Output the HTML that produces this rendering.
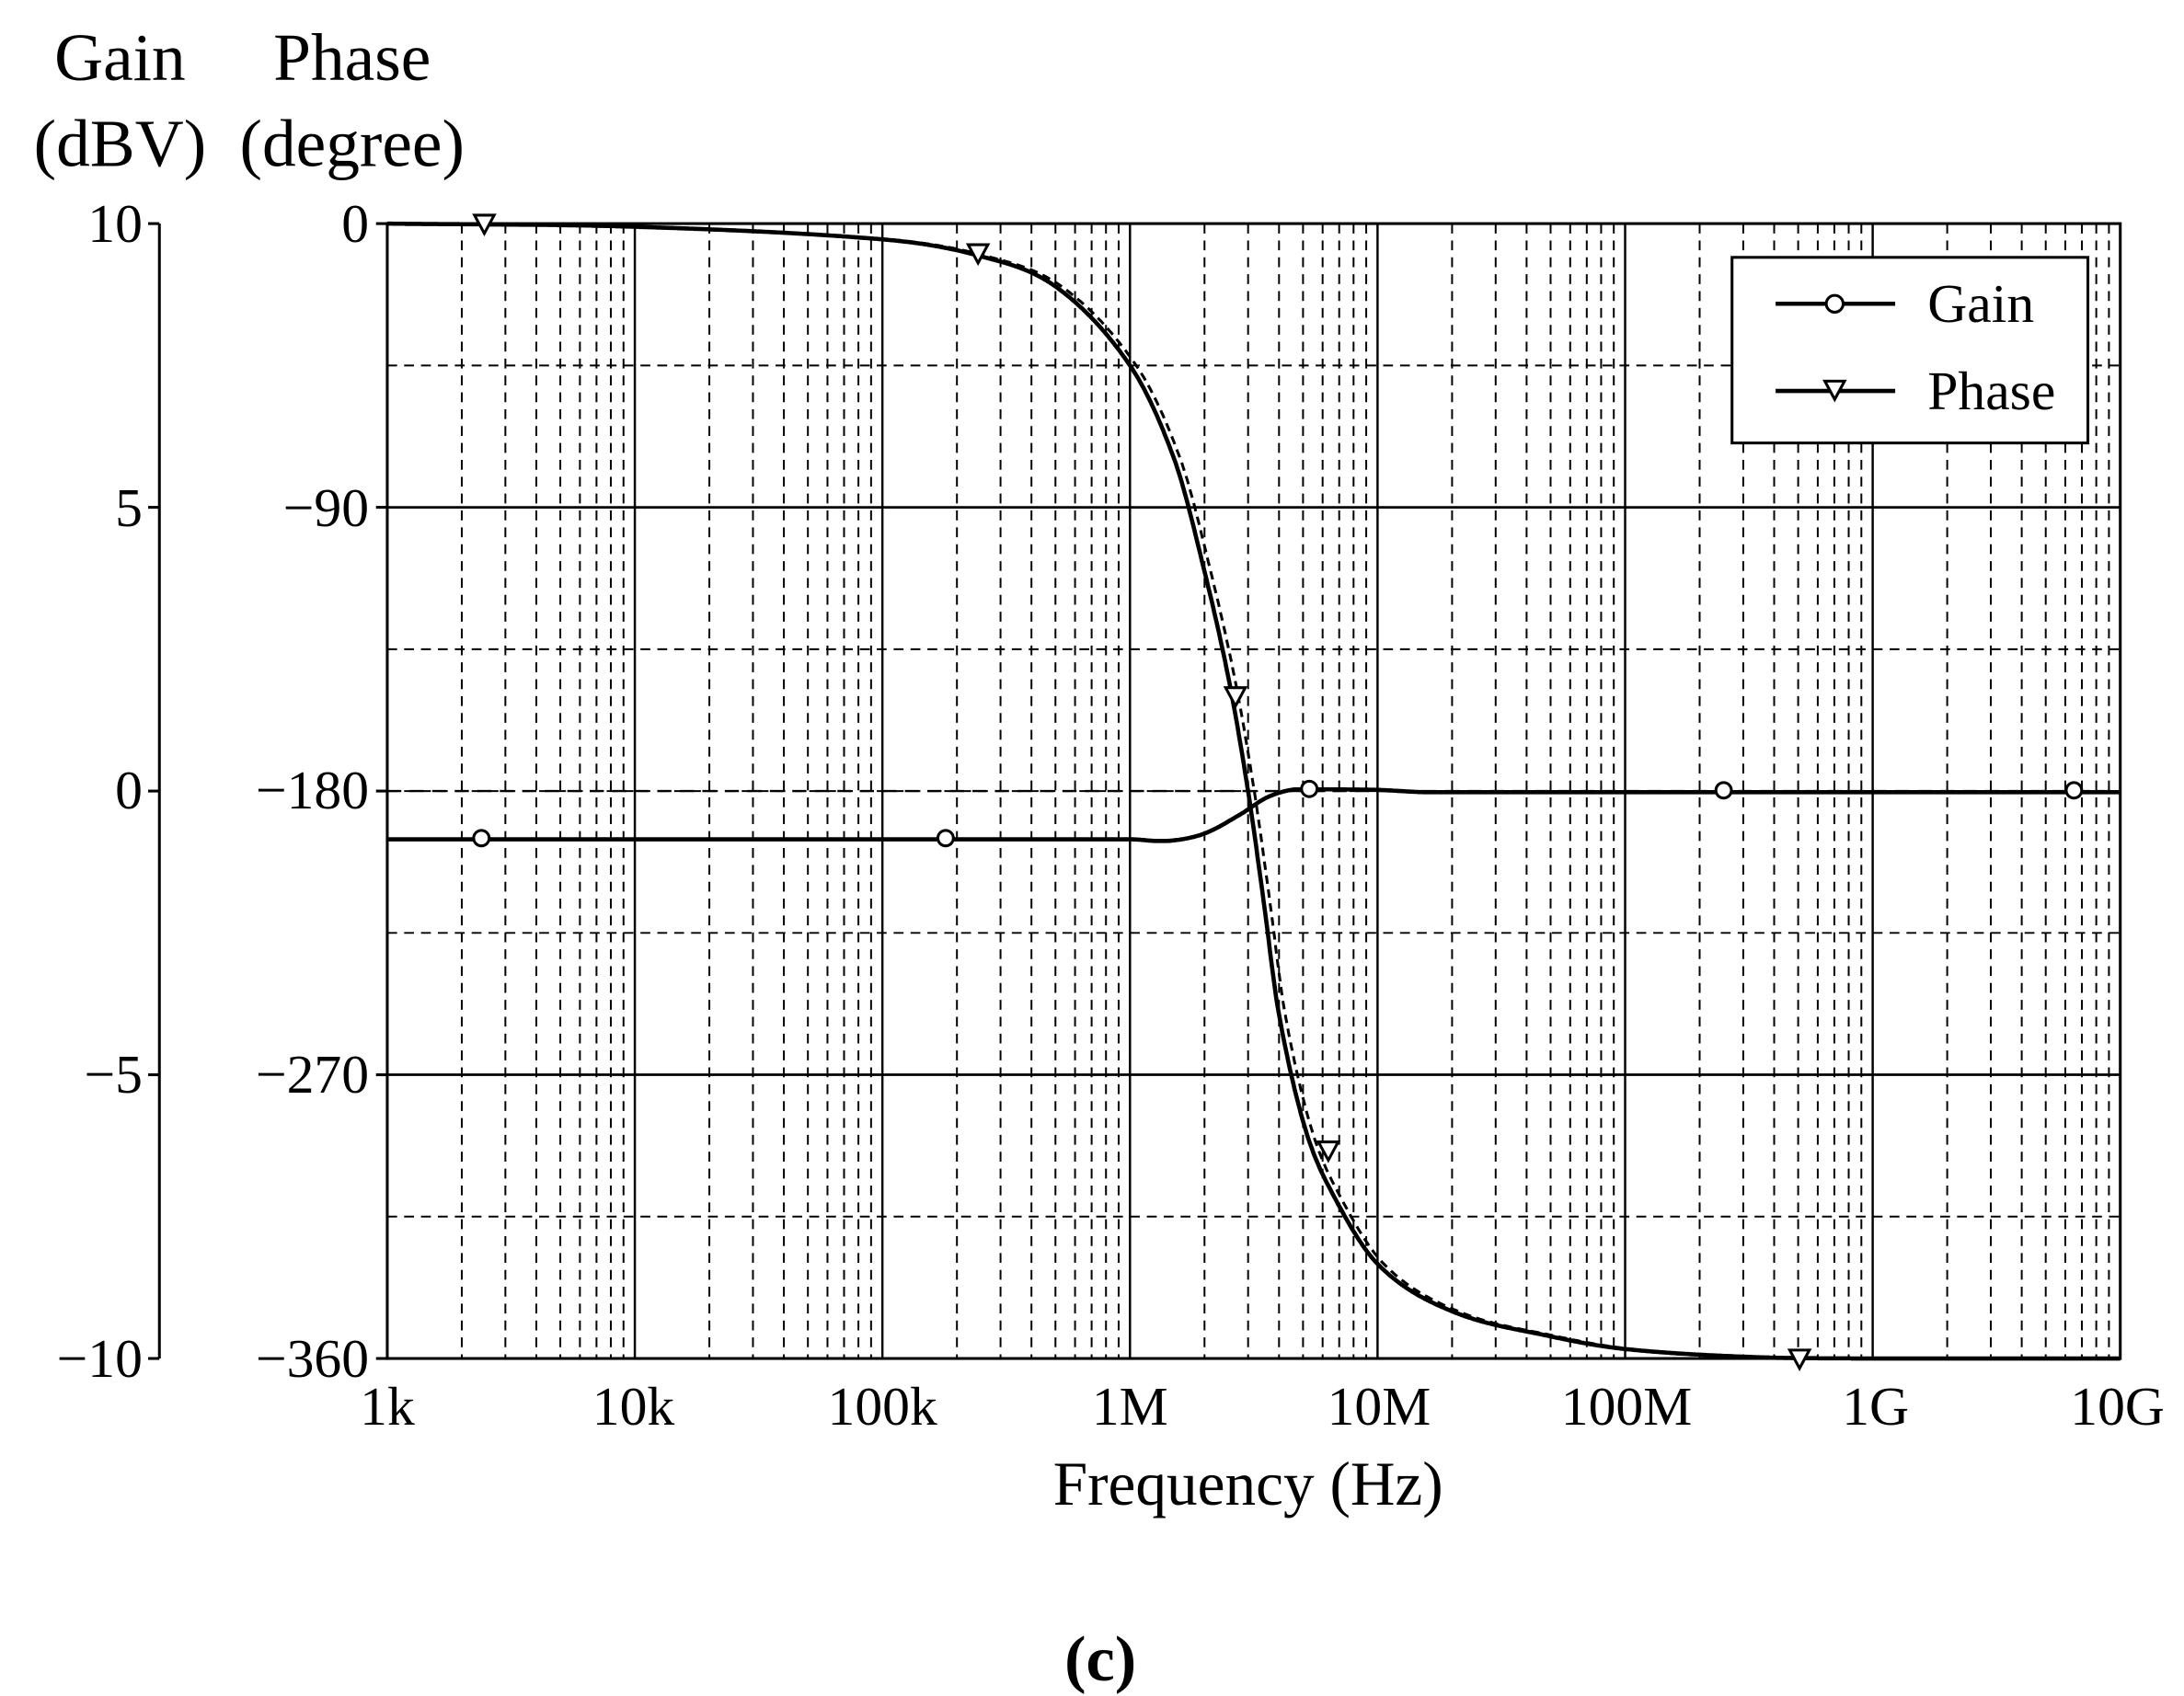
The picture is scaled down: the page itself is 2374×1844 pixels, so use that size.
<!DOCTYPE html>
<html><head><meta charset="utf-8"><style>
html,body{margin:0;padding:0;background:#fff;}
svg{display:block;}
text{font-family:"Liberation Serif",serif;fill:#000;}
</style></head><body>
<svg id="s" width="2374" height="1844" viewBox="0 0 1552 1206" xmlns="http://www.w3.org/2000/svg">
<g id="grid"></g>
<g font-size="48">
<text x="85" y="57" text-anchor="middle">Gain</text>
<text x="85" y="118" text-anchor="middle">(dBV)</text>
<text x="250" y="57" text-anchor="middle">Phase</text>
<text x="250" y="118" text-anchor="middle">(degree)</text>
</g>
<g font-size="39" text-anchor="end">
<text x="101" y="172">10</text>
<text x="101" y="374">5</text>
<text x="101" y="575">0</text>
<text x="101" y="777">−5</text>
<text x="101" y="979">−10</text>
<text x="262" y="172">0</text>
<text x="262" y="374">−90</text>
<text x="262" y="575">−180</text>
<text x="262" y="777">−270</text>
<text x="262" y="979">−360</text>
</g>
<g font-size="39" text-anchor="middle">
<text x="275" y="1013">1k</text>
<text x="450" y="1013">10k</text>
<text x="627" y="1013">100k</text>
<text x="803" y="1013">1M</text>
<text x="980" y="1013">10M</text>
<text x="1156" y="1013">100M</text>
<text x="1333" y="1013">1G</text>
<text x="1505" y="1013">10G</text>
</g>
<text x="887" y="1070" font-size="44" text-anchor="middle">Frequency (Hz)</text>
<text x="782" y="1195" font-size="46" font-weight="bold" text-anchor="middle">(c)</text>
<g id="curves" fill="none" stroke="#000"></g>
<g id="legend">
<rect x="1231" y="183" width="253" height="132" fill="#fff" stroke="#000" stroke-width="2"/>
<line x1="1262" y1="216" x2="1347" y2="216" stroke="#000" stroke-width="3"/>
<circle cx="1304" cy="216" r="6" fill="#fff" stroke="#000" stroke-width="2"/>
<line x1="1262" y1="278" x2="1347" y2="278" stroke="#000" stroke-width="3"/>
<path d="M1297 271 L1311 271 L1304 284 Z" fill="#fff" stroke="#000" stroke-width="2"/>
<text x="1370" y="229" font-size="39">Gain</text>
<text x="1370" y="291" font-size="39">Phase</text>
</g>
</svg>
<script>
var NS="http://www.w3.org/2000/svg";
var X0=275,X1=1507,Y0=159,Y1=966,D=(X1-X0)/7;
function el(p,n,a){var e=document.createElementNS(NS,n);for(var k in a)e.setAttribute(k,a[k]);p.appendChild(e);return e;}
var g=document.getElementById('grid');
function fx(f){return X0+(Math.log10(f)-3)*D;}
function py(p){return Y0+(-p)/360*(Y1-Y0);}
function gy(d){return Y0+(10-d)/20*(Y1-Y0);}
for(var dcd=0;dcd<7;dcd++){for(var m=2;m<=9;m++){var x=X0+(dcd+Math.log10(m))*D;el(g,'line',{x1:x,y1:Y0,x2:x,y2:Y1,stroke:'#000','stroke-width':1.3,'stroke-dasharray':'7,5'});}
 if(dcd>0){var x=X0+dcd*D;el(g,'line',{x1:x,y1:Y0,x2:x,y2:Y1,stroke:'#000','stroke-width':1.6});}}
[-45,-135,-180,-225,-315].forEach(function(p){el(g,'line',{x1:X0,y1:py(p),x2:X1,y2:py(p),stroke:'#000','stroke-width':1.3,'stroke-dasharray':'7,5'});});
[-90,-270].forEach(function(p){el(g,'line',{x1:X0,y1:py(p),x2:X1,y2:py(p),stroke:'#000','stroke-width':1.8});});
el(g,'rect',{x:X0,y:Y0,width:X1-X0,height:Y1-Y0,fill:'none',stroke:'#000','stroke-width':2});
el(g,'line',{x1:113,y1:Y0,x2:113,y2:Y1,stroke:'#000','stroke-width':2});
[10,5,0,-5,-10].forEach(function(d){el(g,'line',{x1:105,y1:gy(d),x2:113,y2:gy(d),stroke:'#000','stroke-width':2});});
[0,-90,-180,-270,-360].forEach(function(p){el(g,'line',{x1:267,y1:py(p),x2:X0,y2:py(p),stroke:'#000','stroke-width':2});});
var P=[[3,0],[4,-1],[5,-5],[5.38,-10],[5.7,-20],[6,-45],[6.18,-75],[6.3,-110],[6.4,-145],[6.477,-180],[6.54,-215],[6.6,-250],[6.7,-285],[6.8,-305],[7,-330],[7.3,-345],[7.7,-353],[8,-357],[8.5,-359.5],[9,-360],[10,-360]];
var G=[[3,-0.85],[6,-0.85],[6.15,-0.88],[6.3,-0.75],[6.45,-0.4],[6.55,-0.12],[6.65,0.02],[6.75,0.03],[7,0.02],[7.2,-0.02],[8,-0.02],[10,-0.02]];
function interp(A,t){for(var i=0;i<A.length-1;i++){if(t<=A[i+1][0]){var a=A[Math.max(i-1,0)],b=A[i],c=A[i+1],d=A[Math.min(i+2,A.length-1)];var u=(t-b[0])/(c[0]-b[0]);
 var m1=(c[1]-a[1])/(c[0]-a[0]||1),m2=(d[1]-b[1])/(d[0]-b[0]||1);var h=c[0]-b[0];
 var h00=2*u*u*u-3*u*u+1,h10=u*u*u-2*u*u+u,h01=-2*u*u*u+3*u*u,h11=u*u*u-u*u;
 var v=h00*b[1]+h10*h*m1+h01*c[1]+h11*h*m2;var lo=Math.min(b[1],c[1]),hi=Math.max(b[1],c[1]);return Math.max(lo,Math.min(hi,v));}}return A[A.length-1][1];}
var cv=document.getElementById('curves');
function path(fn,shift){var s='';for(var t=3;t<=10.0001;t+=0.005){var x=X0+(t-3)*D,y=fn(t-(shift||0));s+=(s?'L':'M')+x.toFixed(1)+' '+y.toFixed(1);}return s;}
el(cv,'path',{d:path(function(t){return py(interp(P,t));},0.025),'stroke-width':2,'stroke-dasharray':'6,4'});
el(cv,'path',{d:path(function(t){return py(interp(P,t));}),'stroke-width':3});
el(cv,'line',{x1:X0,y1:gy(0),x2:X1,y2:gy(0),'stroke-width':1.5,'stroke-dasharray':'10,6'});
el(cv,'path',{d:path(function(t){return gy(interp(G,t));}),'stroke-width':3});
[[2400,596],[180e3,596],[5.3e6,561],[250e6,562],[6.5e9,562]].forEach(function(p){el(cv,'circle',{cx:fx(p[0]),cy:p[1],r:5.5,fill:'#fff','stroke-width':2});});
[[344,159],[695,180],[878,495],[944,818],[1279,966]].forEach(function(p){el(cv,'path',{d:'M'+(p[0]-7)+' '+(p[1]-6)+' L'+(p[0]+7)+' '+(p[1]-6)+' L'+p[0]+' '+(p[1]+7)+' Z',fill:'#fff','stroke-width':2});});
</script>
</body></html>
